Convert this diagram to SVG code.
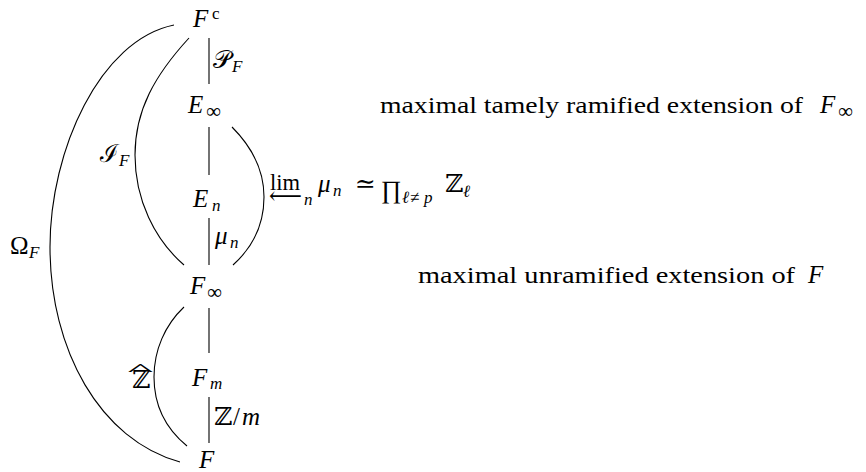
<svg xmlns="http://www.w3.org/2000/svg" width="866" height="472" viewBox="0 0 866 472">
<style>
.t{font-family:'Liberation Serif','DejaVu Serif',serif;font-size:25px;fill:#000}
.i{font-style:italic}
.s{font-size:17px}
.x{font-family:'Liberation Serif','DejaVu Serif',serif;font-size:24px;fill:#000}
.e{stroke:#000;stroke-width:1.1;fill:none}
</style>
<rect width="866" height="472" fill="#fff"/>
<g id="connectors">
<line class="e" x1="209" y1="38" x2="209" y2="84"/>
<line class="e" x1="209" y1="127" x2="209" y2="175"/>
<line class="e" x1="209" y1="218" x2="209" y2="265"/>
<line class="e" x1="209" y1="308" x2="209" y2="353"/>
<line class="e" x1="209" y1="397" x2="209" y2="443"/>
<path class="e" d="M174,25 C100,40 50,150 50,247 C50,350 100,440 180,462"/>
<path class="e" d="M189,38 C155,75 135,110 135,155 C135,200 155,240 184,265"/>
<path class="e" d="M232,127 C255,150 264,175 264,197 C264,225 252,248 233,265"/>
<path class="e" d="M184,307 C165,325 154,350 154,377 C154,405 165,428 187,446"/>
</g>
<g id="node-Fc"><text class="t"><tspan class="i" x="193" y="27">F</tspan><tspan class="s" x="212" y="19">c</tspan></text></g>
<g id="node-Einf"><text class="t"><tspan class="i" x="188" y="113">E</tspan><tspan font-size="21" x="206" y="118">∞</tspan></text></g>
<g id="node-En"><text class="t"><tspan class="i" x="193" y="207">E</tspan><tspan class="i s" x="212" y="211">n</tspan></text></g>
<g id="node-Finf"><text class="t"><tspan class="i" x="190" y="294">F</tspan><tspan font-size="21" x="207" y="299">∞</tspan></text></g>
<g id="node-Fm"><text class="t"><tspan class="i" x="192" y="386">F</tspan><tspan class="i s" x="210" y="389">m</tspan></text></g>
<g id="node-F"><text class="t"><tspan class="i" x="199" y="468">F</tspan></text></g>
<g id="labels">
<text class="t"><tspan x="213" y="68">𝒫</tspan><tspan class="i s" x="232" y="72">F</tspan></text>
<text class="t"><tspan x="100" y="162">ℐ</tspan><tspan class="i s" x="119" y="166">F</tspan></text>
<text class="t"><tspan x="10" y="254">Ω</tspan><tspan class="i s" x="29" y="258">F</tspan></text>
<text class="t"><tspan class="i" x="215" y="244">μ</tspan><tspan class="i s" x="230" y="248">n</tspan></text>
<text class="t" font-size="22px"><tspan x="132" y="388">ℤ</tspan></text>
<text class="t" transform="translate(140.5,375) scale(2.2,0.7)" text-anchor="middle">^</text>
<text class="t"><tspan x="214" y="425">ℤ</tspan><tspan x="233" y="425">/</tspan><tspan class="i" x="242" y="425">m</tspan></text>
<text class="x" x="270" y="190" textLength="30" lengthAdjust="spacingAndGlyphs">lim</text>
<text class="x" x="269" y="204" font-size="20" textLength="33" lengthAdjust="spacingAndGlyphs">⟵</text>
<text class="t"><tspan class="i s" x="304" y="205">n</tspan><tspan class="i" x="318" y="192">μ</tspan><tspan class="i s" x="333" y="196">n</tspan><tspan x="355" y="192">≃</tspan><tspan x="381" y="198">∏</tspan><tspan class="i s" x="402" y="203">ℓ</tspan><tspan class="s" x="410" y="203">≠</tspan><tspan class="i s" x="424" y="203">p</tspan><tspan x="445" y="192">ℤ</tspan><tspan class="i s" x="463" y="197">ℓ</tspan></text>
<text class="x" x="380" y="113" textLength="423" lengthAdjust="spacingAndGlyphs">maximal tamely ramified extension of</text>
<text class="t"><tspan class="i" x="820" y="113">F</tspan><tspan font-size="21" x="838" y="118">∞</tspan></text>
<text class="x" x="418" y="283" textLength="377" lengthAdjust="spacingAndGlyphs">maximal unramified extension of</text>
<text class="t"><tspan class="i" x="808" y="283">F</tspan></text>
</g>
</svg>
